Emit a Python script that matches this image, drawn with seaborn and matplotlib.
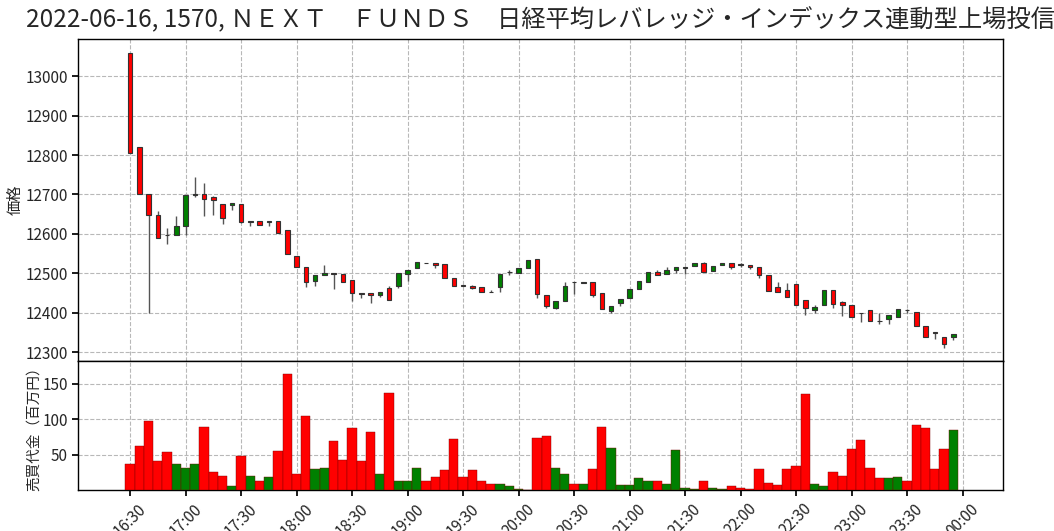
import numpy as np
import pandas as pd
import seaborn as sns
import matplotlib.pyplot as plt
import matplotlib.dates as mdates

# 5-minute bars, 2022-06-16 16:30 - 23:55
times = pd.date_range('2022-06-16 16:30', periods=90, freq='5min')

open_ = [13058, 12820, 12700, 12649, 12598, 12597, 12620, 12699, 12700, 12694,
         12677, 12674, 12677, 12629, 12633, 12629, 12633, 12610, 12544, 12515,
         12480, 12495, 12500, 12498, 12484, 12449, 12449, 12444, 12462, 12468,
         12499, 12513, 12527, 12526, 12524, 12487, 12469, 12468, 12464, 12453,
         12465, 12503, 12501, 12513, 12537, 12446, 12413, 12429, 12478, 12474,
         12478, 12449, 12405, 12424, 12436, 12459, 12479, 12503, 12499, 12508,
         12513, 12519, 12525, 12506, 12521, 12526, 12523, 12520, 12515, 12495,
         12464, 12457, 12473, 12431, 12406, 12419, 12458, 12426, 12419, 12400,
         12407, 12379, 12385, 12390, 12407, 12401, 12366, 12350, 12337, 12337]
high = [13058, 12820, 12700, 12658, 12614, 12645, 12698, 12745, 12728, 12697,
        12677, 12678, 12677, 12633, 12633, 12633, 12633, 12610, 12544, 12515,
        12495, 12521, 12500, 12498, 12484, 12449, 12449, 12453, 12468, 12500,
        12508, 12528, 12527, 12526, 12524, 12487, 12470, 12471, 12464, 12458,
        12499, 12509, 12513, 12534, 12537, 12446, 12429, 12479, 12478, 12478,
        12478, 12449, 12418, 12434, 12459, 12480, 12503, 12508, 12515, 12515,
        12517, 12525, 12529, 12519, 12527, 12526, 12525, 12520, 12515, 12495,
        12479, 12476, 12473, 12431, 12419, 12458, 12458, 12430, 12419, 12400,
        12407, 12399, 12394, 12410, 12408, 12401, 12366, 12350, 12337, 12346]
low = [12805, 12700, 12400, 12590, 12573, 12597, 12597, 12694, 12645, 12649,
       12624, 12660, 12627, 12619, 12623, 12620, 12602, 12548, 12515, 12464,
       12468, 12495, 12460, 12479, 12429, 12438, 12425, 12440, 12433, 12463,
       12480, 12513, 12526, 12513, 12489, 12468, 12467, 12459, 12453, 12452,
       12453, 12496, 12501, 12513, 12438, 12412, 12410, 12429, 12448, 12474,
       12439, 12409, 12399, 12418, 12436, 12459, 12479, 12496, 12499, 12500,
       12499, 12519, 12503, 12506, 12521, 12511, 12515, 12510, 12487, 12454,
       12453, 12440, 12419, 12394, 12400, 12419, 12411, 12392, 12390, 12375,
       12380, 12372, 12371, 12390, 12400, 12365, 12339, 12332, 12311, 12330]
close = [12805, 12700, 12649, 12590, 12597, 12621, 12698, 12700, 12689, 12685,
         12641, 12678, 12629, 12633, 12623, 12633, 12602, 12548, 12515, 12477,
         12495, 12500, 12499, 12479, 12449, 12448, 12444, 12453, 12433, 12500,
         12508, 12528, 12526, 12520, 12489, 12468, 12468, 12463, 12453, 12452,
         12499, 12504, 12513, 12534, 12448, 12418, 12429, 12468, 12477, 12478,
         12444, 12409, 12418, 12434, 12459, 12480, 12503, 12496, 12508, 12515,
         12517, 12525, 12503, 12519, 12527, 12515, 12521, 12515, 12496, 12454,
         12453, 12440, 12419, 12413, 12414, 12458, 12422, 12419, 12390, 12399,
         12380, 12378, 12394, 12410, 12406, 12365, 12339, 12349, 12320, 12346]
# 売買代金 (百万円)
volume = [36, 62, 98, 41, 53, 36, 31, 37, 89, 25,
          20, 5, 48, 20, 13, 18, 55, 164, 23, 105,
          29, 31, 69, 42, 87, 41, 82, 23, 137, 13,
          13, 31, 12, 18, 28, 72, 19, 28, 13, 8,
          8, 5, 2, 0.5, 73, 76, 31, 22, 8, 9,
          30, 89, 59, 7, 7, 17, 12, 13, 8, 57,
          3, 2, 13, 3, 2, 5, 3, 1.5, 30, 10,
          7, 29, 34, 135, 8, 5, 25, 20, 58, 70,
          31, 17, 17, 18, 12, 91, 88, 30, 58, 85]

title = '2022-06-16, 1570, ＮＥＸＴ　ＦＵＮＤＳ　日経平均レバレッジ・インデックス連動型上場投信'

sns.set_theme(style='ticks')
plt.rcParams['font.family'] = ['Noto Sans CJK JP', 'DejaVu Sans']

o = np.array(open_, dtype=float)
c = np.array(close, dtype=float)
x = mdates.date2num(times)
step = 5 / 1440
colors = np.where(c >= o, 'green', 'red')

fig = plt.figure(figsize=(10.54, 5.31), dpi=100)
ax1 = fig.add_axes([0.0743, 0.320, 0.8776, 0.606])
ax2 = fig.add_axes([0.0743, 0.0772, 0.8776, 0.243], sharex=ax1)

# candles
ax1.vlines(x, low, high, color='#555555', linewidth=1, zorder=2)
ax1.bar(x, c - o, bottom=o, width=step * 0.5, color=colors,
        edgecolor='#333333', linewidth=0.8, zorder=3)

# volume
df = pd.DataFrame({'time': x, 'vol': volume,
                   'dir': np.where(c >= o, 'up', 'down')})
sns.barplot(data=df, x='time', y='vol', hue='dir',
            palette={'up': 'green', 'down': 'red'}, native_scale=True,
            width=1.0, dodge=False, errorbar=None, legend=False, ax=ax2,
            saturation=1, edgecolor='#7a0000', linewidth=0.3, zorder=3)

for ax in (ax1, ax2):
    ax.grid(True, linestyle='--', color='#b8b8b8', linewidth=0.8)
    ax.set_axisbelow(True)
    for s in ax.spines.values():
        s.set_color('black')
        s.set_linewidth(1)
    ax.tick_params(labelsize=11, length=4, color='black')

start = mdates.date2num(pd.Timestamp('2022-06-16 16:30'))
ax1.set_xlim(start - 5.6 * step, start + 94.4 * step)
ax1.set_ylim(12277, 13094)
ax1.set_yticks([12300, 12400, 12500, 12600, 12700, 12800, 12900, 13000])
ax1.set_ylabel('価格', fontsize=11, labelpad=1)
ax1.tick_params(axis='x', labelbottom=False, length=0)

ax2.set_ylim(0, 182)
ax2.set_yticks([50, 100, 150])
ax2.set_ylabel('売買代金（百万円）', fontsize=10.5, labelpad=1)
ax2.set_xlabel('')
ax2.xaxis.set_major_locator(mdates.MinuteLocator(byminute=[0, 30]))
ax2.xaxis.set_major_formatter(mdates.DateFormatter('%H:%M'))
plt.setp(ax2.get_xticklabels(), rotation=45, ha='center')
ax2.set_xlim(start - 5.6 * step, start + 94.4 * step)

fig.text(0.513, 0.962, title, ha='center', va='center', fontsize=17.5)

fig.savefig('out.png', dpi=100)
